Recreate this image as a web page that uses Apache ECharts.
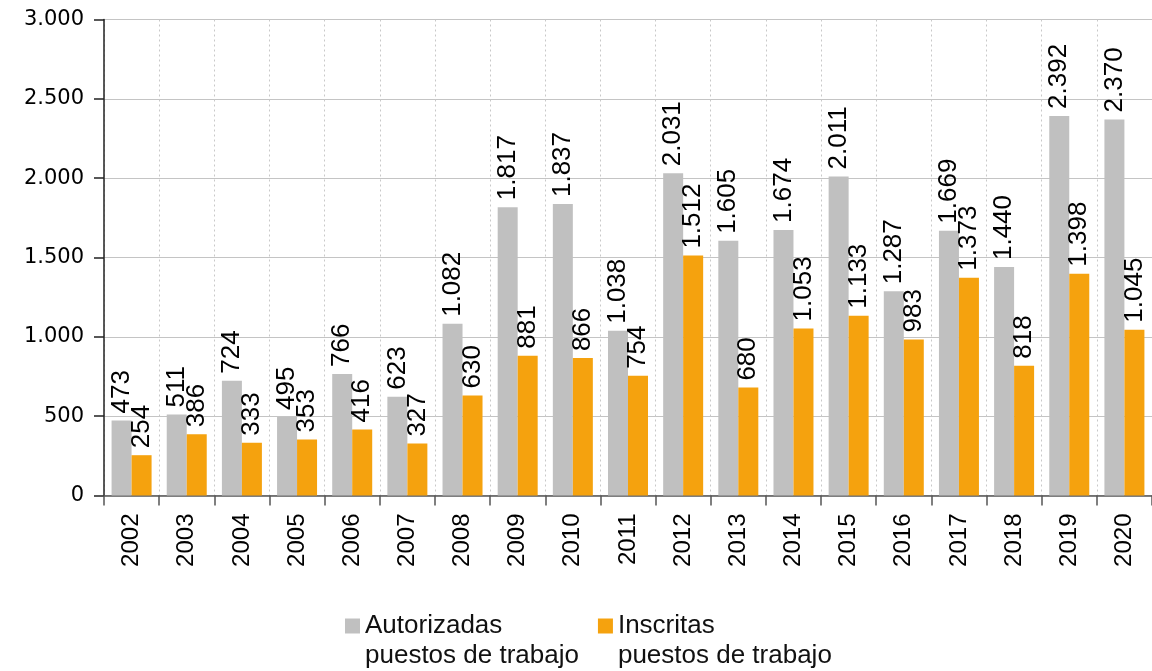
<!DOCTYPE html>
<html>
<head>
<meta charset="utf-8">
<script src="https://cdn.jsdelivr.net/npm/echarts@6/dist/echarts.min.js"></script>
<style>
  html, body { margin: 0; padding: 0; background: #fff; }
  #chart { width: 1152px; height: 671px; }
</style>
</head>
<body>
<div id="chart"></div>
<script>
const years = ['2002', '2003', '2004', '2005', '2006', '2007', '2008', '2009', '2010', '2011',
               '2012', '2013', '2014', '2015', '2016', '2017', '2018', '2019', '2020'];
const autorizadas = [473, 511, 724, 495, 766, 623, 1082, 1817, 1837, 1038, 2031, 1605, 1674, 2011, 1287, 1669, 1440, 2392, 2370];
const inscritas = [254, 386, 333, 353, 416, 327, 630, 881, 866, 754, 1512, 680, 1053, 1133, 983, 1373, 818, 1398, 1045];
const seriesNames = ['Autorizadas\npuestos de trabajo', 'Inscritas\npuestos de trabajo'];

const colors = ['#c0c0c0', '#f5a20e'];

// separador de miles con punto
function fmt(v) {
    return String(v).replace(/\B(?=(\d{3})+(?!\d))/g, '.');
}

var chartDom = document.getElementById('chart');
var myChart = echarts.init(chartDom);

var barLabel = {
    show: true,
    position: 'top',
    rotate: 90,
    align: 'left',
    verticalAlign: 'middle',
    distance: 7,
    color: '#000',
    fontFamily: 'Liberation Sans',
    fontSize: 26,
    formatter: function (p) { return fmt(p.value); }
};

var option = {
    animation: false,
    color: colors,
    grid: {
        left: 104,
        top: 19.5,
        bottom: 175.5,
        width: 1051
    },
    legend: {
        left: 340,
        top: 576,
        itemWidth: 15,
        itemHeight: 15,
        itemGap: 19,
        icon: 'rect',
        // linea vacia arriba para que el icono quede a la altura de la primera linea
        formatter: function (name) { return ' \n' + name; },
        textStyle: {
            fontFamily: 'Liberation Sans',
            fontSize: 26,
            lineHeight: 30,
            color: '#111'
        },
        data: seriesNames
    },
    xAxis: {
        type: 'category',
        data: years,
        axisLine: { lineStyle: { color: '#555', width: 1.5 } },
        axisTick: { show: true, length: 10, lineStyle: { color: '#555', width: 1.5 } },
        axisLabel: {
            rotate: 90,
            margin: 18,
            color: '#000',
            fontFamily: 'Liberation Sans',
            fontSize: 24
        },
        splitLine: {
            show: true,
            lineStyle: { color: '#c8c8c8', type: [2, 3], width: 1 }
        }
    },
    yAxis: {
        type: 'value',
        min: 0,
        max: 3000,
        interval: 500,
        axisLine: { show: true, lineStyle: { color: '#222', width: 1.5 } },
        axisTick: { show: true, length: 10, lineStyle: { color: '#222', width: 1.5 } },
        axisLabel: {
            margin: 20,
            color: '#000',
            fontFamily: 'DejaVu Sans',
            fontSize: 21,
            formatter: function (v) { return fmt(v); }
        },
        splitLine: { lineStyle: { color: '#c4c4c4', width: 1 } }
    },
    series: [
        {
            name: seriesNames[0],
            type: 'bar',
            barWidth: 20,
            barGap: '0%',
            data: autorizadas,
            label: barLabel
        },
        {
            name: seriesNames[1],
            type: 'bar',
            barWidth: 20,
            barGap: '0%',
            data: inscritas,
            label: barLabel
        }
    ]
};
myChart.setOption(option);
</script>
</body>
</html>
